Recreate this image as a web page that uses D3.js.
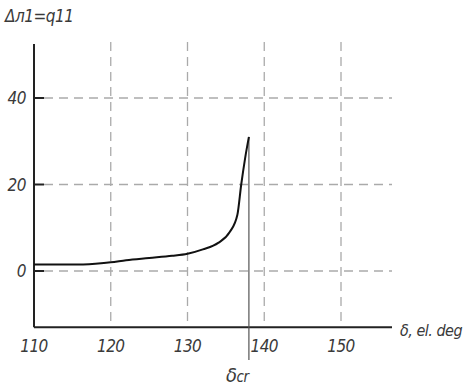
<!DOCTYPE html>
<meta charset="utf-8">
<head>
<script src="https://cdn.jsdelivr.net/npm/d3@7"></script>
<style>
body { margin: 0; background: #fff; }
text { font-family: "DejaVu Sans Condensed", "Liberation Sans Narrow", sans-serif; font-style: italic; font-weight: 300; fill: #3a3a3a; letter-spacing: -0.5px; }
</style>
</head>
<body>
<div id="chart"></div>
<script>

// curve points: load angle (el. deg) vs Δл1 = q11
const delta = [110, 115, 118, 120, 122, 125, 128, 130, 132, 134, 135.5, 136.5, 137, 137.5, 138]
const q11 = [1.5, 1.5, 1.7, 2, 2.5, 3, 3.5, 4, 5, 6.5, 9, 13, 20, 26, 31]
const xTicks = [110, 120, 130, 140, 150]
const yTicks = [0, 20, 40]
const deltaCr = 138

const width = 470, height = 387

const x = d3.scaleLinear().domain([110, 150]).range([34, 341])
const y = d3.scaleLinear().domain([0, 40]).range([271, 98])

const svg = d3.select('#chart').append('svg')
	.attr('width', width)
	.attr('height', height)

const grid = svg.append('g').attr('stroke', '#aaa').attr('stroke-width', 1.3)
	.attr('stroke-dasharray', '9,6')

grid.selectAll('.vg')
	.data(xTicks.slice(1))
	.enter().append('line')
	.attr('x1', d => x(d)).attr('x2', d => x(d))
	.attr('y1', 42).attr('y2', y(-13))

grid.selectAll('.hg')
	.data(yTicks)
	.enter().append('line')
	.attr('x1', x(110) + 10).attr('x2', 392)
	.attr('y1', d => y(d)).attr('y2', d => y(d))

// short solid ticks on y axis
svg.selectAll('.yt')
	.data(yTicks)
	.enter().append('line')
	.attr('x1', x(110)).attr('x2', x(110) + 10)
	.attr('y1', d => y(d)).attr('y2', d => y(d))
	.attr('stroke', '#222').attr('stroke-width', 2)

// axes
svg.append('line')
	.attr('x1', x(110)).attr('x2', x(110))
	.attr('y1', 44).attr('y2', y(-13))
	.attr('stroke', '#222').attr('stroke-width', 2)

svg.append('line')
	.attr('x1', x(110)).attr('x2', 392)
	.attr('y1', y(-13)).attr('y2', y(-13))
	.attr('stroke', '#222').attr('stroke-width', 2)

// critical angle line
svg.append('line')
	.attr('x1', x(deltaCr)).attr('x2', x(deltaCr))
	.attr('y1', y(31)).attr('y2', 360)
	.attr('stroke', '#555').attr('stroke-width', 1.2)

// curve
const line = d3.line()
	.x((d, i) => x(delta[i]))
	.y(d => y(d))
	.curve(d3.curveMonotoneX)

svg.append('path')
	.datum(q11)
	.attr('d', line)
	.attr('fill', 'none')
	.attr('stroke', '#111')
	.attr('stroke-width', 2)

// tick labels
svg.selectAll('.xl')
	.data(xTicks)
	.enter().append('text')
	.attr('x', d => x(d))
	.attr('y', 352)
	.attr('text-anchor', 'middle')
	.attr('font-size', 17)
	.text(d => d)

svg.selectAll('.yl')
	.data(yTicks)
	.enter().append('text')
	.attr('x', 26)
	.attr('y', d => y(d) + 6)
	.attr('text-anchor', 'end')
	.attr('font-size', 17)
	.text(d => d)

svg.append('text')
	.attr('x', 5).attr('y', 22)
	.attr('font-size', 17)
	.text('Δл1=q11')

svg.append('text')
	.attr('x', 400).attr('y', 336)
	.attr('font-size', 16)
	.text('δ, el. deg')

const cr = svg.append('text')
	.attr('x', 226).attr('y', 382)
	.attr('font-size', 20)
cr.append('tspan').text('δ')
cr.append('tspan').attr('font-size', 15).text('cr')

</script>
</body>
